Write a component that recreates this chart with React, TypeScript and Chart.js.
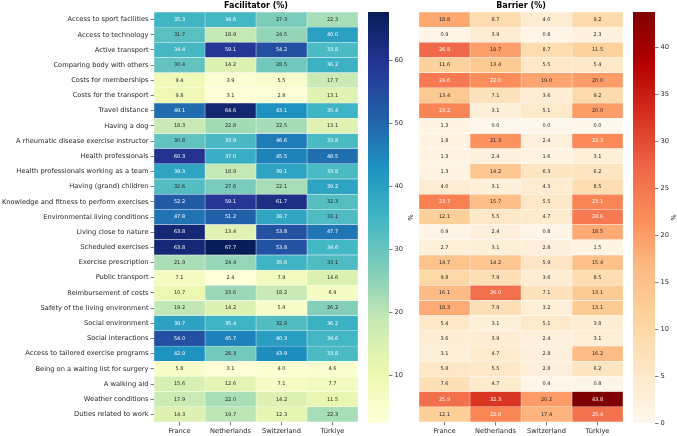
import React, { useEffect, useRef } from "react";
import { Chart, registerables } from "chart.js";
Chart.register(...registerables);

const categories = [
  "Access to sport facilities",
  "Access to technology",
  "Active transport",
  "Comparing body with others",
  "Costs for memberships",
  "Costs for the transport",
  "Travel distance",
  "Having a dog",
  "A rheumatic disease exercise instructor",
  "Health professionals",
  "Health professionals working as a team",
  "Having (grand) children",
  "Knowledge and fitness to perform exercises",
  "Environmental living conditions",
  "Living close to nature",
  "Scheduled exercises",
  "Exercise prescription",
  "Public transport",
  "Reimbursement of costs",
  "Safety of the living environment",
  "Social environment",
  "Social interactions",
  "Access to tailored exercise programs",
  "Being on a waiting list for surgery",
  "A walking aid",
  "Weather conditions",
  "Duties related to work",
];

const countries = ["France", "Netherlands", "Switzerland", "Türkiye"];

// Facilitator (%)
const facFrance = [35.3, 31.7, 34.4, 30.4, 9.4, 9.8, 49.1, 18.3, 30.8, 60.3, 39.3, 32.6, 52.2, 47.8, 63.8, 63.8, 21.9, 7.1, 10.7, 19.2, 39.7, 54.0, 42.9, 5.8, 15.6, 17.9, 14.3];
const facNetherlands = [34.6, 18.9, 59.1, 14.2, 3.9, 3.1, 64.6, 22.8, 33.9, 37.0, 18.9, 27.6, 59.1, 51.2, 13.4, 67.7, 24.4, 2.4, 23.6, 14.2, 35.4, 45.7, 28.3, 3.1, 12.6, 22.0, 19.7];
const facSwitzerland = [27.3, 24.5, 54.2, 28.5, 5.5, 2.8, 43.1, 22.5, 46.6, 45.5, 39.1, 22.1, 61.7, 38.7, 53.8, 53.8, 35.6, 7.9, 18.2, 5.9, 32.8, 40.3, 43.9, 4.0, 7.1, 14.2, 12.3];
const facTurkiye = [22.3, 40.0, 33.8, 36.2, 17.7, 13.1, 35.4, 13.1, 33.8, 48.5, 33.8, 39.2, 32.3, 33.1, 47.7, 34.6, 33.1, 14.6, 6.9, 26.2, 36.2, 34.6, 33.8, 4.6, 7.7, 11.5, 22.3];

// Barrier (%)
const barFrance = [18.8, 0.9, 26.8, 11.6, 24.6, 13.4, 23.2, 1.3, 1.8, 1.3, 1.3, 4.0, 23.7, 12.1, 0.9, 2.7, 14.7, 9.8, 16.1, 18.3, 5.4, 3.6, 3.1, 5.8, 7.6, 25.9, 12.1];
const barNetherlands = [8.7, 3.9, 19.7, 13.4, 22.0, 7.1, 3.1, 0.0, 21.3, 2.4, 14.2, 3.1, 15.7, 5.5, 2.4, 3.1, 14.2, 7.9, 26.0, 7.9, 3.1, 3.9, 4.7, 5.5, 4.7, 32.3, 22.8];
const barSwitzerland = [4.0, 0.8, 8.7, 5.5, 19.0, 3.6, 5.1, 0.0, 2.4, 1.6, 6.3, 4.3, 5.5, 4.7, 0.8, 2.8, 5.9, 3.6, 7.1, 3.2, 5.1, 2.4, 2.8, 2.8, 0.4, 20.2, 17.4];
const barTurkiye = [9.2, 2.3, 11.5, 5.4, 20.0, 9.2, 20.0, 0.0, 22.3, 3.1, 6.2, 8.5, 23.1, 24.6, 18.5, 1.5, 15.4, 8.5, 13.1, 13.1, 3.8, 3.1, 16.2, 6.2, 0.8, 43.8, 25.4];

const facTicks = [10, 20, 30, 40, 50, 60];
const barTicks = [0, 5, 10, 15, 20, 25, 30, 35, 40];

const YLGNBU = ["#ffffd9", "#edf8b1", "#c7e9b4", "#7fcdbb", "#41b6c4", "#1d91c0", "#225ea8", "#253494", "#081d58"];
const ORRD = ["#fff7ec", "#fee8c8", "#fdd49e", "#fdbb84", "#fc8d59", "#ef6548", "#d7301f", "#b30000", "#7f0000"];

const FONT = '"DejaVu Sans", sans-serif';
const TXT = "#262626";

function hexRgb(h: string): number[] {
  const n = parseInt(h.slice(1), 16);
  return [(n >> 16) & 255, (n >> 8) & 255, n & 255];
}

function cmap(stops: string[], t: number): number[] {
  const tt = Math.max(0, Math.min(1, t));
  const pos = tt * (stops.length - 1);
  const i = Math.min(Math.floor(pos), stops.length - 2);
  const f = pos - i;
  const a = hexRgb(stops[i]);
  const b = hexRgb(stops[i + 1]);
  return a.map((v, k) => v + (b[k] - v) * f);
}

function lum(c: number[]): number {
  const l = c.map((v) => {
    const s = v / 255;
    return s <= 0.03928 ? s / 12.92 : Math.pow((s + 0.055) / 1.055, 2.4);
  });
  return 0.2126 * l[0] + 0.7152 * l[1] + 0.0722 * l[2];
}

const rgbStr = (c: number[]) => `rgb(${Math.round(c[0])},${Math.round(c[1])},${Math.round(c[2])})`;

const annotPlugin = {
  id: "annot",
  afterDatasetsDraw(chart: any) {
    const ctx = chart.ctx;
    ctx.save();
    ctx.font = `5px ${FONT}`;
    ctx.textAlign = "center";
    ctx.textBaseline = "middle";
    chart.data.datasets.forEach((ds: any, i: number) => {
      const meta = chart.getDatasetMeta(i);
      meta.data.forEach((el: any, j: number) => {
        const p = el.getProps(["x", "base", "y"], true);
        ctx.fillStyle = ds.textColors[j];
        ctx.fillText(ds.values[j].toFixed(1), (p.x + p.base) / 2, p.y);
      });
    });
    ctx.restore();
  },
};

function heatConfig(cols: number[][], vmin: number, vmax: number, stops: string[], title: string, showY: boolean, padding: any): any {
  const datasets = cols.map((vals, i) => {
    const colors = vals.map((v) => cmap(stops, (v - vmin) / (vmax - vmin)));
    return {
      data: vals.map(() => [i, i + 1]),
      values: vals,
      textColors: colors.map((c) => (lum(c) > 0.408 ? "rgb(38,38,38)" : "#ffffff")),
      backgroundColor: colors.map(rgbStr),
      borderColor: "rgba(255,255,255,0.75)",
      borderWidth: 0.5,
      borderSkipped: false,
      barPercentage: 1,
      categoryPercentage: 1,
      grouped: false,
    };
  });
  return {
    type: "bar",
    data: { labels: categories, datasets },
    options: {
      indexAxis: "y",
      animation: false,
      responsive: false,
      layout: { padding },
      plugins: { legend: { display: false }, tooltip: { enabled: false } },
      scales: {
        x: {
          type: "linear",
          position: "bottom",
          min: 0,
          max: 4,
          afterBuildTicks: (s: any) => {
            s.ticks = [0.5, 1.5, 2.5, 3.5].map((v) => ({ value: v }));
          },
          ticks: {
            autoSkip: false,
            maxRotation: 0,
            padding: 1.5,
            color: TXT,
            font: { family: FONT, size: 6.7 },
            callback: (v: number) => countries[Math.floor(v)],
          },
          grid: { drawOnChartArea: false, tickLength: 3.5, color: TXT, lineWidth: 0.6 },
          border: { display: false },
          afterFit: (s: any) => {
            s.height = 14;
          },
        },
        xTop: {
          type: "linear",
          position: "top",
          min: 0,
          max: 4,
          ticks: { display: false },
          grid: { display: false },
          border: { display: false },
          title: {
            display: true,
            text: title,
            color: "#000",
            padding: { top: 1, bottom: 0 },
            font: { family: FONT, size: 8, weight: "bold" },
          },
          afterFit: (s: any) => {
            s.height = 12;
          },
        },
        y: {
          type: "category",
          display: showY,
          grid: { offset: false, drawOnChartArea: false, tickLength: 3.5, color: TXT, lineWidth: 0.6 },
          border: { display: false },
          ticks: { autoSkip: false, padding: 2, color: TXT, font: { family: FONT, size: 6.7 } },
          afterFit: (s: any) => {
            s.width = showY ? 154 : 0;
          },
        },
      },
    },
    plugins: [annotPlugin],
  };
}

function cbConfig(vmin: number, vmax: number, stops: string[], ticks: number[], axisWidth: number, padLeft: number): any {
  return {
    type: "bar",
    data: {
      labels: [""],
      datasets: [
        {
          data: [[vmin, vmax]],
          backgroundColor: (c: any) => {
            const a = c.chart.chartArea;
            if (!a) return stops[0];
            const g = c.chart.ctx.createLinearGradient(0, a.bottom, 0, a.top);
            stops.forEach((s, k) => g.addColorStop(k / (stops.length - 1), s));
            return g;
          },
          borderWidth: 0,
          barPercentage: 1,
          categoryPercentage: 1,
        },
      ],
    },
    options: {
      animation: false,
      responsive: false,
      layout: { padding: { top: 12, bottom: 13, left: padLeft, right: 0 } },
      plugins: { legend: { display: false }, tooltip: { enabled: false } },
      scales: {
        x: { display: false },
        y: {
          type: "linear",
          position: "right",
          min: vmin,
          max: vmax,
          afterBuildTicks: (s: any) => {
            s.ticks = ticks.map((v) => ({ value: v }));
          },
          ticks: { padding: 2, color: TXT, font: { family: FONT, size: 6.7 } },
          grid: { drawOnChartArea: false, tickLength: 3.5, color: TXT, lineWidth: 0.6 },
          border: { display: false },
          title: { display: true, text: "%", color: TXT, padding: 0, font: { family: FONT, size: 6.7 } },
          afterFit: (s: any) => {
            s.width = axisWidth;
          },
        },
      },
    },
  };
}

function ChartCanvas({ config, left, width }: { config: () => any; left: number; width: number }) {
  const ref = useRef<HTMLCanvasElement>(null);
  useEffect(() => {
    if (!ref.current) return;
    const chart = new Chart(ref.current, config());
    return () => chart.destroy();
  }, []);
  return (
    <canvas
      ref={ref}
      width={width}
      height={436}
      style={{ position: "absolute", left, top: 0, width, height: 436 }}
    />
  );
}

export default function App() {
  const fac = [facFrance, facNetherlands, facSwitzerland, facTurkiye];
  const bar = [barFrance, barNetherlands, barSwitzerland, barTurkiye];
  const fMin = Math.min(...fac.flat());
  const fMax = Math.max(...fac.flat());
  const bMin = 0;
  const bMax = Math.max(...bar.flat());
  return (
    <div style={{ position: "absolute", left: 0, top: 0, width: 677, height: 436, background: "#fff" }}>
      <ChartCanvas
        left={0}
        width={362}
        config={() => heatConfig(fac, fMin, fMax, YLGNBU, "Facilitator (%)", true, { top: 0, right: 4, bottom: 0, left: 0 })}
      />
      <ChartCanvas left={362} width={52} config={() => cbConfig(fMin, fMax, YLGNBU, facTicks, 25, 6)} />
      <ChartCanvas
        left={414}
        width={214}
        config={() => heatConfig(bar, bMin, bMax, ORRD, "Barrier (%)", false, { top: 0, right: 5, bottom: 0, left: 5 })}
      />
      <ChartCanvas left={628} width={49} config={() => cbConfig(bMin, bMax, ORRD, barTicks, 22, 5)} />
    </div>
  );
}
